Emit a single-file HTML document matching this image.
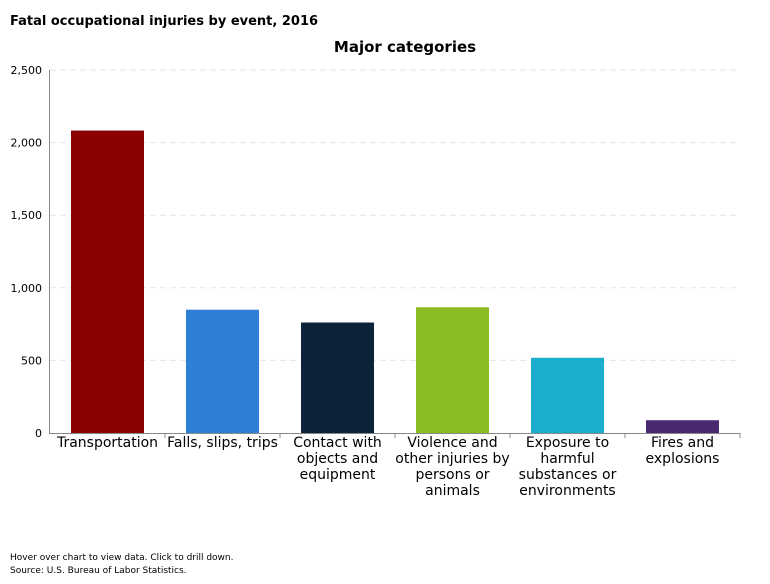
<!DOCTYPE html>
<html><head><meta charset="utf-8"><style>
body{margin:0;background:#fff;font-family:"DejaVu Sans","Liberation Sans",sans-serif;}
svg text{font-family:"DejaVu Sans","Liberation Sans",sans-serif;}
</style></head><body>
<svg id="c" width="770" height="580" xmlns="http://www.w3.org/2000/svg">
<rect width="770" height="580" fill="#fff"/>
<text x="10" y="25" font-size="13" font-weight="bold" fill="#000">Fatal occupational injuries by event, 2016</text>
<text x="405" y="52" font-size="15" font-weight="bold" text-anchor="middle" fill="#000">Major categories</text>
<g id="grid"></g><g id="bars"></g><g id="labels"></g>
<line x1="50" y1="433.5" x2="740" y2="433.5" stroke="#888"/>
<line x1="49.5" y1="70" x2="49.5" y2="434" stroke="#888"/>
<text x="10" y="560" font-size="9" fill="#000">Hover over chart to view data. Click to drill down.</text>
<text x="10" y="573" font-size="9" fill="#000">Source: U.S. Bureau of Labor Statistics.</text>
</svg>
<script>
const categories=[["Transportation"],["Falls, slips, trips"],["Contact with","objects and","equipment"],["Violence and","other injuries by","persons or","animals"],["Exposure to","harmful","substances or","environments"],["Fires and","explosions"]];
const values=[2083,849,761,866,518,88];
const colors=["#8b0000","#2f7ed8","#0d233a","#8bbc21","#1aadce","#492970"];
const ticks=[0,500,1000,1500,2000,2500];
const tickLabels=["0","500","1,000","1,500","2,000","2,500"];
const NS="http://www.w3.org/2000/svg";
const x0=50,x1=740,y0=433,yTop=70,yMax=2500;
const y=v=>y0-(v/yMax)*(y0-yTop);
const band=(x1-x0)/categories.length;
const g=document.getElementById('grid'),b=document.getElementById('bars'),l=document.getElementById('labels');
ticks.forEach((t,i)=>{
  if(t>0){const ln=document.createElementNS(NS,'line');
  ln.setAttribute('x1',x0);ln.setAttribute('x2',x1);ln.setAttribute('y1',y(t));ln.setAttribute('y2',y(t));
  ln.setAttribute('stroke','#e6e6e6');ln.setAttribute('stroke-dasharray','6,4');
  
  
  g.appendChild(ln);}
  const tx=document.createElementNS(NS,'text');
  tx.setAttribute('x',42);tx.setAttribute('y',y(t)+4);tx.setAttribute('text-anchor','end');tx.setAttribute('font-size','11');
  tx.textContent=tickLabels[i];
  
  
  g.appendChild(tx);
});
values.forEach((v,i)=>{
  const cx=x0+band*(i+0.5),w=73;
  const r=document.createElementNS(NS,'rect');
  r.setAttribute('x',cx-w/2);r.setAttribute('width',w);r.setAttribute('y',y(v));r.setAttribute('height',y0-y(v));r.setAttribute('fill',colors[i]);
  
  
  b.appendChild(r);
  const tk=document.createElementNS(NS,'line');
  tk.setAttribute('x1',x0+band*(i+1));tk.setAttribute('x2',x0+band*(i+1));tk.setAttribute('y1',y0);tk.setAttribute('y2',y0+5);tk.setAttribute('stroke','#888');
  
  
  b.appendChild(tk);
  const tx=document.createElementNS(NS,'text');
  tx.setAttribute('text-anchor','middle');tx.setAttribute('font-size','14');
  
  
  categories[i].forEach((s,j)=>{const sp=document.createElementNS(NS,'tspan');sp.setAttribute('x',cx);sp.setAttribute('y',447+j*16);sp.textContent=s;tx.appendChild(sp);});
  l.appendChild(tx);
});
</script>
</body></html>
